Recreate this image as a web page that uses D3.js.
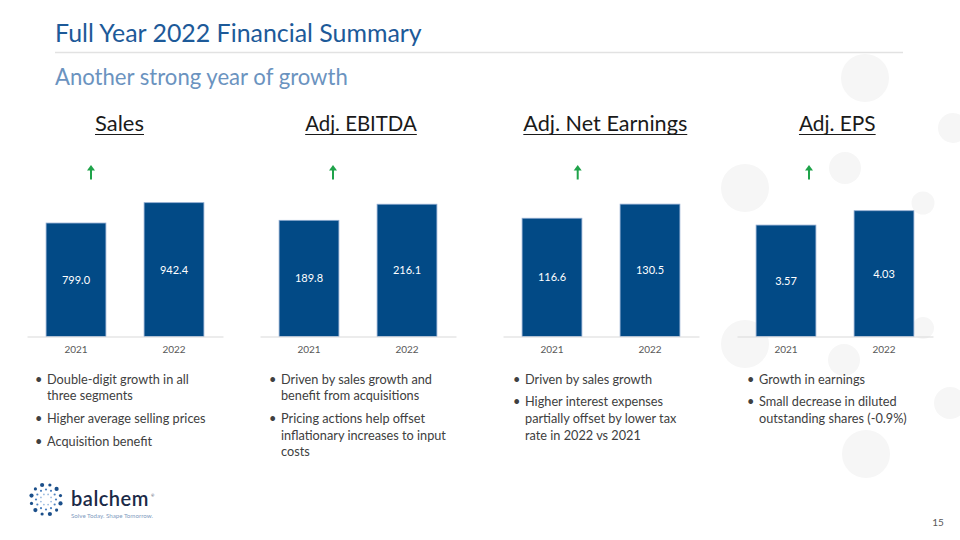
<!DOCTYPE html>
<html>
<head>
<meta charset="utf-8">
<script src="https://cdn.jsdelivr.net/npm/d3@7/dist/d3.min.js"></script>
<style>
  html, body { margin: 0; padding: 0; background: #ffffff; }
  svg { display: block; }
  text { font-family: Lato, "Open Sans", "Noto Sans", sans-serif; }
</style>
</head>
<body>
<svg id="chart" width="960" height="540"></svg>
<script>
// ---------------- DATA ----------------
const categories = ["2021", "2022"];
const metrics = ["Sales", "Adj. EBITDA", "Adj. Net Earnings", "Adj. EPS"];
const salesValues = [799.0, 942.4];
const ebitdaValues = [189.8, 216.1];
const netEarningsValues = [116.6, 130.5];
const epsValues = [3.57, 4.03];
const valueFormats = [".1f", ".1f", ".1f", ".2f"];
const axisMax = [1000, 232, 140, 4.55];

const salesBullets = [["Double-digit growth in all", "three segments"], ["Higher average selling prices"], ["Acquisition benefit"]];
const ebitdaBullets = [["Driven by sales growth and", "benefit from acquisitions"], ["Pricing actions help offset", "inflationary increases to input", "costs"]];
const netEarningsBullets = [["Driven by sales growth"], ["Higher interest expenses", "partially offset by lower tax", "rate in 2022 vs 2021"]];
const epsBullets = [["Growth in earnings"], ["Small decrease in diluted", "outstanding shares (-0.9%)"]];

const titleText = "Full Year 2022 Financial Summary";
const subtitleText = "Another strong year of growth";
const pageNumber = "15";

// ---------------- LAYOUT ----------------
const svg = d3.select("#chart");

const panelSeries = [salesValues, ebitdaValues, netEarningsValues, epsValues];
const panelBullets = [salesBullets, ebitdaBullets, netEarningsBullets, epsBullets];
const panelLeft = [27, 260, 503, 737];
const panelWidth = 196;
const headingCenterOffset = [92.5, 101, 102.3, 100.3];
const headingWidths = [49, 111.7, 164, 76.7];
const arrowOffset = [64, 73, 74.7, 72];
const baseline = 336.5;
const plotTop = 194.5;

function fitWidth(sel, target) {
  const w = sel.node().getComputedTextLength();
  const fs = parseFloat(sel.attr("font-size"));
  if (w > 0) sel.attr("font-size", fs * target / w);
  return sel;
}

// background decorative circles
const bgCircles = [
  [865, 78, 24], [953, 128, 15], [745, 188, 24], [845, 168, 16], [923, 203, 11.5],
  [745, 344, 24], [923, 328, 11], [844, 360, 16], [950, 403, 16], [866, 454, 24]
];
svg.append("g").selectAll("circle").data(bgCircles).join("circle")
  .attr("cx", d => d[0]).attr("cy", d => d[1]).attr("r", d => d[2])
  .attr("fill", "#f6f6f6");

// title
fitWidth(svg.append("text").attr("x", 55).attr("y", 42)
  .attr("font-size", 26).attr("fill", "#1d5a99").text(titleText), 367);

svg.append("line").attr("x1", 55).attr("x2", 903).attr("y1", 52.5).attr("y2", 52.5)
  .attr("stroke", "#e2e2e2").attr("stroke-width", 1.5);

fitWidth(svg.append("text").attr("x", 55).attr("y", 85)
  .attr("font-size", 21).attr("fill", "#6b93bf").text(subtitleText), 293);

// bullet font size calibration
const probe = svg.append("text").attr("font-size", 13).text("Higher average selling prices");
fitWidth(probe, 158.7);
const bulletFs = parseFloat(probe.attr("font-size"));
probe.remove();

const lineH = 16.7, paraGap = 6, firstCenter = 379;

metrics.forEach((name, i) => {
  const g = svg.append("g");
  const left = panelLeft[i];
  const values = panelSeries[i];

  const x = d3.scaleBand().domain(categories).range([left, left + panelWidth])
    .paddingInner(0.39).paddingOuter(0.195);
  const y = d3.scaleLinear().domain([0, axisMax[i]]).range([baseline, plotTop]);

  // heading with underline
  const cx = left + headingCenterOffset[i];
  const ht = g.append("text").attr("x", cx).attr("y", 131)
    .attr("text-anchor", "middle").attr("font-size", 21).attr("fill", "#1a1a1a").text(name);
  fitWidth(ht, headingWidths[i]);
  const hw = ht.node().getComputedTextLength();
  g.append("line").attr("x1", cx - hw / 2).attr("x2", cx + hw / 2)
    .attr("y1", 134.5).attr("y2", 134.5).attr("stroke", "#1a1a1a").attr("stroke-width", 1.2);

  // green up arrow
  const ax = left + arrowOffset[i];
  g.append("line").attr("x1", ax).attr("x2", ax).attr("y1", 169).attr("y2", 179.5)
    .attr("stroke", "#1fa34a").attr("stroke-width", 2);
  g.append("path").attr("d", `M${ax - 4},${170.5} L${ax},${165} L${ax + 4},${170.5} Z`)
    .attr("fill", "#1fa34a");

  // bars
  g.selectAll("rect.bar").data(values).join("rect").attr("class", "bar")
    .attr("x", (d, j) => x(categories[j]))
    .attr("width", x.bandwidth())
    .attr("y", d => y(d))
    .attr("height", d => y(0) - y(d))
    .attr("fill", "#024a86")
    .attr("stroke", "#8eaad0").attr("stroke-width", 0.8);

  // value labels
  const fmt = d3.format(valueFormats[i]);
  g.selectAll("text.val").data(values).join("text").attr("class", "val")
    .attr("x", (d, j) => x(categories[j]) + x.bandwidth() / 2)
    .attr("y", d => (y(d) + y(0)) / 2 + 4)
    .attr("text-anchor", "middle").attr("font-size", 11).attr("fill", "#ffffff")
    .text(d => fmt(d));

  // axis
  const axis = d3.axisBottom(x).tickSize(0).tickPadding(9);
  const ag = g.append("g").attr("transform", `translate(0,${baseline})`).call(axis);
  ag.select(".domain").attr("stroke", "#d9d9d9").attr("stroke-width", 1.2);
  ag.selectAll("text").attr("font-size", 10).attr("fill", "#595959")
    .attr("font-family", "Lato, 'Open Sans', sans-serif");

  // bullets
  let c = firstCenter;
  const bx = left + (i === 0 ? 8 : (i === 1 ? 9 : 10));
  panelBullets[i].forEach((para, p) => {
    if (p > 0) c += paraGap;
    g.append("text").attr("x", bx).attr("y", c + 4.5).attr("font-size", bulletFs)
      .attr("fill", "#404040").text("•");
    para.forEach((ln) => {
      g.append("text").attr("x", bx + 12).attr("y", c + 4.5).attr("font-size", bulletFs)
        .attr("fill", "#404040").text(ln);
      c += lineH;
    });
  });
});

// page number
svg.append("text").attr("x", 938).attr("y", 526).attr("text-anchor", "middle")
  .attr("font-size", 10).attr("fill", "#595959").text(pageNumber);

// logo
const logo = svg.append("g");
const lc = [46, 499.5];
const outer = d3.range(12).map(k => ({ a: k * Math.PI / 6 + Math.PI / 12, r: 15, s: k % 2 ? 1.6 : 2.1, c: "#1b4f8a" }));
const mid = d3.range(12).map(k => ({ a: k * Math.PI / 6, r: 10, s: 1.1, c: "#4b80bf" }));
const inner = d3.range(8).map(k => ({ a: k * Math.PI / 4 + Math.PI / 8, r: 5.5, s: 0.9, c: "#9bbbe0" }));
logo.selectAll("circle").data(outer.concat(mid, inner)).join("circle")
  .attr("cx", d => lc[0] + d.r * Math.cos(d.a))
  .attr("cy", d => lc[1] + d.r * Math.sin(d.a))
  .attr("r", d => d.s).attr("fill", d => d.c);
fitWidth(logo.append("text").attr("x", 71).attr("y", 506).attr("font-size", 20)
  .attr("font-weight", 600).attr("fill", "#1b2a47").attr("letter-spacing", 0.5).text("balchem"), 78);
logo.append("text").attr("x", 151).attr("y", 497).attr("font-size", 4).attr("fill", "#1b2a47").text("®");
fitWidth(logo.append("text").attr("x", 71).attr("y", 517.5).attr("font-size", 5.5)
  .attr("fill", "#7f9cc0").text("Solve Today. Shape Tomorrow."), 82);
</script>
</body>
</html>
